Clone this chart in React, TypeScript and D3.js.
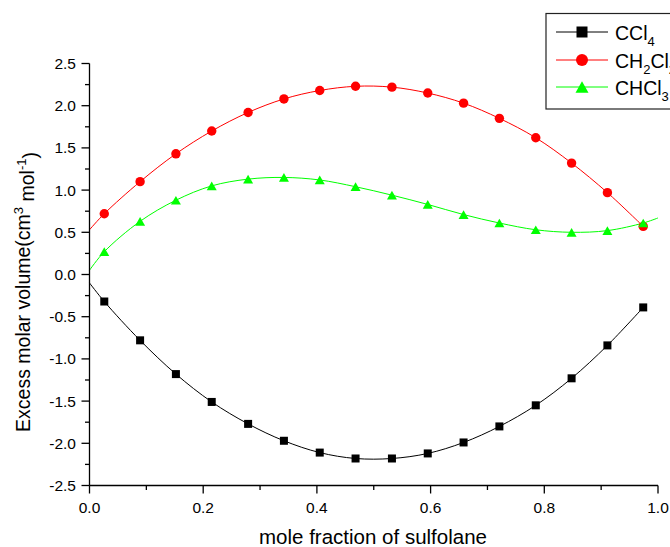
import React from "react";
import * as d3 from "d3";

const xFrac = [0.026, 0.089, 0.152, 0.215, 0.279, 0.342, 0.405, 0.468, 0.532, 0.595, 0.658, 0.721, 0.785, 0.848, 0.911, 0.974];
const ccl4 = [-0.32, -0.78, -1.18, -1.51, -1.77, -1.97, -2.11, -2.18, -2.18, -2.12, -1.99, -1.80, -1.55, -1.23, -0.84, -0.39];
const ch2cl2 = [0.72, 1.10, 1.43, 1.70, 1.92, 2.08, 2.18, 2.23, 2.22, 2.15, 2.03, 1.85, 1.62, 1.32, 0.97, 0.57];
const chcl3 = [0.27, 0.63, 0.88, 1.05, 1.13, 1.15, 1.12, 1.04, 0.94, 0.83, 0.71, 0.61, 0.53, 0.50, 0.52, 0.61];
// fitted-curve end values (at x = 0 and, for CHCl3, x = 1)
const ccl4Start = -0.10;
const ch2cl2Start = 0.53;
const chcl3Start = 0.05;
const chcl3End = 0.67;

const xTicks = [0, 0.2, 0.4, 0.6, 0.8, 1.0];
const xMinor = [0.1, 0.3, 0.5, 0.7, 0.9];
const yTicks = [-2.5, -2.0, -1.5, -1.0, -0.5, 0.0, 0.5, 1.0, 1.5, 2.0, 2.5];
const yMinor = [-2.25, -1.75, -1.25, -0.75, -0.25, 0.25, 0.75, 1.25, 1.75, 2.25];

const W = 670;
const H = 547;
const FONT = "Arial, 'Liberation Sans', Helvetica, sans-serif";

export default function App() {
  const x = d3.scaleLinear().domain([0, 1]).range([89.5, 658]);
  const y = d3.scaleLinear().domain([-2.5, 2.5]).range([485.5, 63.5]);
  const line = d3
    .line<[number, number]>()
    .x((d) => x(d[0]))
    .y((d) => y(d[1]))
    .curve(d3.curveCatmullRom.alpha(0.5));

  const pts = (vals: number[]) => xFrac.map((v, i) => [v, vals[i]] as [number, number]);
  const blackLine: [number, number][] = [[0, ccl4Start], ...pts(ccl4)];
  const redLine: [number, number][] = [[0, ch2cl2Start], ...pts(ch2cl2)];
  const greenLine: [number, number][] = [[0, chcl3Start], ...pts(chcl3), [1.0, chcl3End]];

  const tri = (cx: number, cy: number, s: number) => {
    const h = s * 0.87;
    return `M${cx},${cy - h / 2}L${cx + s / 2},${cy + h / 2}L${cx - s / 2},${cy + h / 2}Z`;
  };

  const x0 = x(0);
  const yb = y(-2.5);

  const legendItems = [
    { color: "#000000", kind: "square", main: "CCl", sub: "4", y: 32 },
    { color: "#ff0000", kind: "circle", main: "CH", sub: "2", tail: "Cl", sub2: "2", y: 60 },
    { color: "#00ff00", kind: "tri", main: "CHCl", sub: "3", y: 87 },
  ];

  return (
    <svg
      width={W}
      height={H}
      style={{ position: "absolute", left: 0, top: 0, background: "#fff" }}
      fontFamily={FONT}
    >
      <rect x={0} y={0} width={W} height={H} fill="#fff" />

      {/* curves */}
      <path d={line(blackLine) || ""} fill="none" stroke="#000" strokeWidth={1} />
      <path d={line(redLine) || ""} fill="none" stroke="#ff0000" strokeWidth={1} />
      <path d={line(greenLine) || ""} fill="none" stroke="#00ff00" strokeWidth={1} />

      {/* markers */}
      {pts(ccl4).map((d, i) => (
        <rect key={"s" + i} x={x(d[0]) - 4} y={y(d[1]) - 4} width={8} height={8} fill="#000" />
      ))}
      {pts(ch2cl2).map((d, i) => (
        <circle key={"c" + i} cx={x(d[0])} cy={y(d[1])} r={4.7} fill="#ff0000" />
      ))}
      {pts(chcl3).map((d, i) => (
        <path key={"t" + i} d={tri(x(d[0]), y(d[1]), 10)} fill="#00ff00" />
      ))}

      {/* axes */}
      <line x1={x0} x2={x0} y1={y(2.5)} y2={yb} stroke="#000" strokeWidth={1.3} />
      <line x1={x0} x2={x(1)} y1={yb} y2={yb} stroke="#000" strokeWidth={1.3} />
      {yTicks.map((t) => (
        <g key={"yt" + t}>
          <line x1={x0 - 8} x2={x0} y1={y(t)} y2={y(t)} stroke="#000" strokeWidth={1.3} />
          <text x={76} y={y(t)} dy="0.36em" textAnchor="end" fontSize={15.5} fill="#000">
            {d3.format(".1f")(t).replace("−", "-")}
          </text>
        </g>
      ))}
      {yMinor.map((t) => (
        <line key={"ym" + t} x1={x0 - 4.5} x2={x0} y1={y(t)} y2={y(t)} stroke="#000" strokeWidth={1.3} />
      ))}
      {xTicks.map((t) => (
        <g key={"xt" + t}>
          <line x1={x(t)} x2={x(t)} y1={yb} y2={yb + 8} stroke="#000" strokeWidth={1.3} />
          <text x={x(t)} y={513} textAnchor="middle" fontSize={15.5} fill="#000">
            {d3.format(".1f")(t)}
          </text>
        </g>
      ))}
      {xMinor.map((t) => (
        <line key={"xm" + t} x1={x(t)} x2={x(t)} y1={yb} y2={yb + 4.5} stroke="#000" strokeWidth={1.3} />
      ))}

      {/* axis titles */}
      <text x={373} y={544} textAnchor="middle" fontSize={20.5} fill="#000">
        mole fraction of sulfolane
      </text>
      <text
        transform={`translate(30,292) rotate(-90)`}
        textAnchor="middle"
        fontSize={19.5}
        fill="#000"
      >
        Excess molar volume(cm
        <tspan dy="-0.55em" fontSize={13}>3</tspan>
        <tspan dy="0.55em"> mol</tspan>
        <tspan dy="-0.55em" fontSize={13}>-1</tspan>
        <tspan dy="0.55em">)</tspan>
      </text>

      {/* legend */}
      <rect x={546} y={13.5} width={200} height={95.5} fill="#fff" stroke="#222" strokeWidth={1.2} />
      {legendItems.map((it) => (
        <g key={it.main + it.sub}>
          <line x1={556} x2={608} y1={it.y} y2={it.y} stroke={it.color} strokeWidth={1} />
          {it.kind === "square" && <rect x={582 - 5.5} y={it.y - 5.5} width={11} height={11} fill={it.color} />}
          {it.kind === "circle" && <circle cx={582} cy={it.y} r={6} fill={it.color} />}
          {it.kind === "tri" && <path d={tri(582, it.y, 13)} fill={it.color} />}
          <text x={615} y={it.y + 7.5} fontSize={19.5} fill="#000">
            {it.main}
            <tspan dy="6" fontSize={13}>{it.sub}</tspan>
            {it.tail && <tspan dy="-6">{it.tail}</tspan>}
            {it.sub2 && <tspan dy="6" fontSize={13}>{it.sub2}</tspan>}
          </text>
        </g>
      ))}
    </svg>
  );
}
